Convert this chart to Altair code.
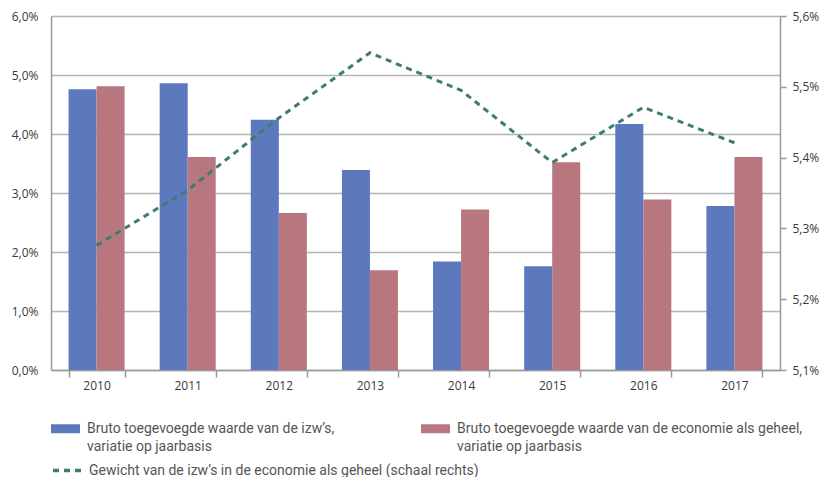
import altair as alt
import pandas as pd

years = ["2010", "2011", "2012", "2013", "2014", "2015", "2016", "2017"]
izw_growth = [4.76, 4.86, 4.24, 3.39, 1.84, 1.76, 4.17, 2.78]
eco_growth = [4.81, 3.61, 2.66, 1.69, 2.72, 3.52, 2.89, 3.61]
izw_weight = [5.276, 5.354, 5.456, 5.548, 5.495, 5.393, 5.471, 5.421]

series_izw = "Bruto toegevoegde waarde van de izw’s, variatie op jaarbasis"
series_eco = "Bruto toegevoegde waarde van de economie als geheel, variatie op jaarbasis"
series_weight = "Gewicht van de izw’s in de economie als geheel (schaal rechts)"
# second legend lines (shown as legend rows without a symbol)
second_line_izw = "variatie op jaarbasis"
second_line_eco = "variatie op jaarbasis "

left_ticks = [0, 1, 2, 3, 4, 5, 6]
right_ticks = [5.1, 5.2, 5.3, 5.4, 5.5, 5.6]

bars_df = pd.DataFrame(
    {
        "year": years * 2,
        "series": [series_izw] * len(years) + [series_eco] * len(years),
        "value": izw_growth + eco_growth,
    }
)
line_df = pd.DataFrame({"year": years, "weight": izw_weight, "series": series_weight})

BLUE = "#5b79bc"
RED = "#b8777f"
TEAL = "#3c7c72"
AXIS_GREY = "#999999"
GRID_GREY = "#b4b4b4"
LABEL_COL = "#3a3a3a"
LEGEND_COL = "#555555"
NONE = "rgba(0,0,0,0)"

pct_expr = "replace(format(datum.value, '.1f'), '.', ',') + '%'"

x_enc = alt.X(
    "year:N",
    sort=years,
    scale=alt.Scale(paddingInner=0.385, paddingOuter=0.1925),
    axis=alt.Axis(
        title=None,
        labelAngle=0,
        tickBand="extent",
        tickSize=7,
        tickColor=AXIS_GREY,
        tickWidth=1.5,
        domainColor=AXIS_GREY,
        domainWidth=1.5,
        labelFont="Open Sans",
        labelFontSize=12,
        labelColor=LABEL_COL,
        labelPadding=3,
        grid=False,
    ),
)

bars = alt.Chart(bars_df).mark_bar().encode(
    x=x_enc,
    xOffset=alt.XOffset(
        "series:N",
        sort=[series_izw, series_eco],
        scale=alt.Scale(paddingInner=0, paddingOuter=0),
    ),
    y=alt.Y(
        "value:Q",
        scale=alt.Scale(domain=[0, 6], nice=False),
        axis=alt.Axis(
            title=None,
            values=left_ticks,
            labelExpr=pct_expr,
            grid=True,
            gridColor=GRID_GREY,
            gridWidth=1.5,
            ticks=False,
            tickSize=0,
            domainColor=AXIS_GREY,
            domainWidth=1.5,
            labelFont="Open Sans",
            labelFontSize=12,
            labelColor=LABEL_COL,
            labelPadding=13,
        ),
    ),
    color=alt.Color(
        "series:N",
        scale=alt.Scale(
            domain=[series_izw, series_eco, second_line_izw, second_line_eco],
            range=[BLUE, RED, NONE, NONE],
        ),
        legend=alt.Legend(
            title=None,
            orient="none",
            legendX=7,
            legendY=405,
            direction="horizontal",
            columns=2,
            columnPadding=86,
            rowPadding=3,
            padding=0,
            symbolType="M-2,-0.62H2V0.62H-2Z",
            symbolSize=210,
            symbolStrokeWidth=0,
            labelOffset=14,
            labelFont="Roboto",
            labelFontSize=14,
            labelColor=LEGEND_COL,
            labelLimit=500,
            labelExpr="replace(datum.label, ' variatie op jaarbasis', '')",
        ),
    ),
)

line = alt.Chart(line_df).mark_line(color=TEAL, strokeWidth=3).encode(
    x=x_enc,
    y=alt.Y(
        "weight:Q",
        scale=alt.Scale(domain=[5.1, 5.6], nice=False),
        axis=alt.Axis(
            title=None,
            orient="right",
            values=right_ticks,
            labelExpr=pct_expr,
            grid=False,
            tickSize=6,
            tickColor=AXIS_GREY,
            tickWidth=1.5,
            domainColor=AXIS_GREY,
            domainWidth=1.5,
            labelFont="Open Sans",
            labelFontSize=12,
            labelColor=LABEL_COL,
            labelPadding=6,
        ),
    ),
    strokeDash=alt.StrokeDash(
        "series:N",
        scale=alt.Scale(domain=[series_weight], range=[[6, 5]]),
        legend=alt.Legend(
            title=None,
            orient="none",
            legendX=0,
            legendY=437,
            padding=0,
            symbolType="stroke",
            symbolSize=961,
            symbolStrokeColor=TEAL,
            symbolStrokeWidth=3.5,
            labelOffset=3,
            labelFont="Roboto",
            labelFontSize=14,
            labelColor=LEGEND_COL,
            labelLimit=500,
        ),
    ),
)

chart = (
    alt.layer(bars, line)
    .resolve_scale(y="independent")
    .properties(
        width=729,
        height=354,
        padding={"left": 43, "top": 8, "right": 40, "bottom": 108},
        autosize=alt.AutoSizeParams(type="none"),
        background="white",
    )
    .configure_view(stroke=None)
)

chart.save("out.html", embed_options={"renderer": "svg", "actions": False})
